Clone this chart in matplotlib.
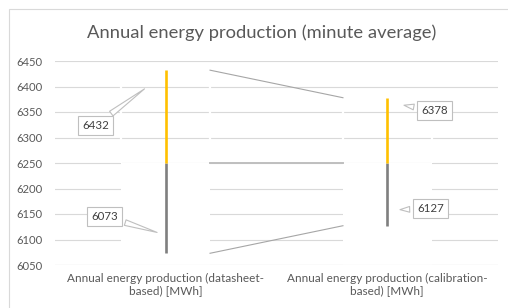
import numpy as np
import matplotlib
matplotlib.use("Agg")
import matplotlib.pyplot as plt
from matplotlib.patches import Rectangle
from matplotlib.transforms import offset_copy

plt.rcParams['font.family'] = ['Lato', 'DejaVu Sans']

categories = ["Annual energy production (datasheet-\nbased) [MWh]",
              "Annual energy production (calibration-\nbased) [MWh]"]
high = [6432, 6378]
low = [6073, 6127]
mid = [6250, 6250]
labels_high = ["6432", "6378"]
labels_low = ["6073", "6127"]
yticks = list(range(6050, 6451, 50))

fig = plt.figure(figsize=(5.08, 3.08), dpi=100)
ax = fig.add_axes([55/508, 1-265/308, 443/508, 204/308])

# chart border
fig.patches.append(Rectangle((9/508, -0.1), 1.2, 1-9/308+0.1, transform=fig.transFigure,
                             fill=False, ec='#d9d9d9', lw=0.8))

x = np.arange(1, len(categories)+1)
ax.set_xlim(0.5, len(categories)+0.5)
ax.set_ylim(6050, 6450)
ax.set_yticks(yticks)
ax.set_xticks(x)
ax.set_xticklabels(categories, fontsize=8.5, color='#595959', linespacing=1.1)
ax.tick_params(axis='y', length=0, pad=9, labelsize=8.1, labelcolor='#595959')
ax.tick_params(axis='x', length=0, pad=6)
for s in ax.spines.values():
    s.set_visible(False)
ax.set_axisbelow(True)
ax.grid(axis='y', color='#d9d9d9', lw=0.8)

# hidden stacked blocks (white) that cut the gridlines
ax.bar(x, np.array(mid) - 6050, bottom=6050, width=0.4, color='white', zorder=1.5)
ax.vlines(np.concatenate([x-0.2, x+0.2]), mid*2, high*2, color='white', lw=1.6, zorder=1.5)
ax.axhline(6050, color='#d9d9d9', lw=0.8, zorder=2)

# series lines
ax.plot([x[0]+0.2, x[1]-0.2], high, color='#a6a6a6', lw=0.8, zorder=2)
ax.plot([x[0]+0.2, x[1]-0.2], low, color='#a6a6a6', lw=0.8, zorder=2)
ax.plot([x[0]+0.2, x[1]-0.2], mid, color='#bfbfbf', lw=1.4, zorder=2)

# floating bars
ax.vlines(x, low, mid, color='#7f7f7f', lw=1.9, zorder=3)
ax.vlines(x, mid, high, color='#ffc000', lw=1.9, zorder=3)

# callout labels
tips_high = [(-19, -17), (14, -7)]
text_high = [(-51, -38), (33, -6)]
tips_low = [(-6, 20), (10, 16)]
text_low = [(-55, 17), (33, 1)]

def callout(xv, yv, txt, tip, off):
    tr = offset_copy(ax.transData, fig=fig, x=tip[0], y=tip[1], units='dots')
    ax.annotate(txt, xy=(xv, yv), xycoords=tr, xytext=off, textcoords='offset pixels',
                ha='center', va='center', fontsize=8.3, color='#404040', zorder=5,
                bbox=dict(boxstyle='square,pad=0.35', fc='white', ec='#bfbfbf', lw=0.8),
                arrowprops=dict(arrowstyle='wedge,tail_width=0.5,shrink_factor=0.5',
                                fc='white', ec='#bfbfbf', lw=0.8))

for i in range(len(x)):
    callout(x[i], high[i], labels_high[i], tips_high[i], text_high[i])
    callout(x[i], low[i], labels_low[i], tips_low[i], text_low[i])

fig.text(262/508, 1-33/308, "Annual energy production (minute average)",
         ha='center', va='center', fontsize=13.2, color='#595959')

fig.savefig("out.png", dpi=100)
